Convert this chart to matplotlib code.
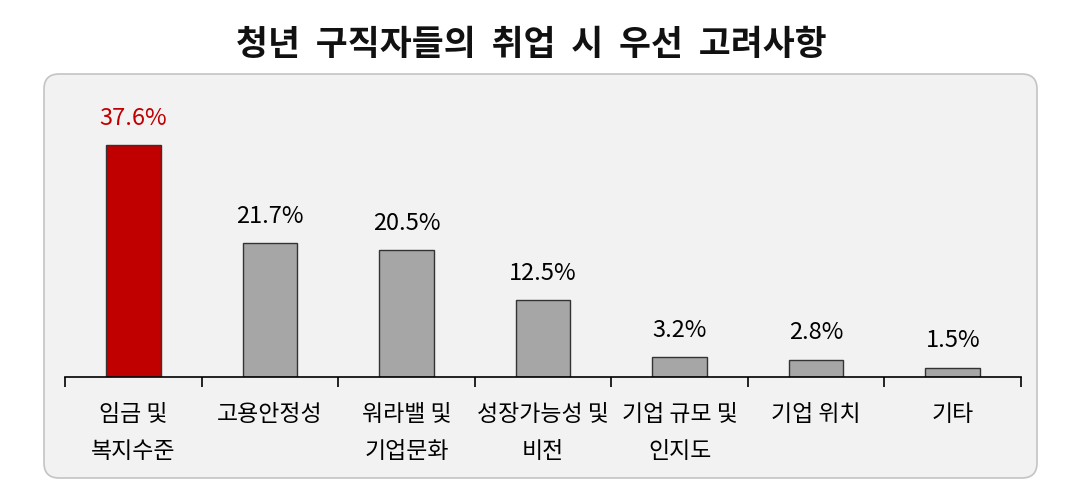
import numpy as np
import matplotlib.pyplot as plt
from matplotlib.patches import FancyBboxPatch

plt.rcParams['font.family'] = ['Noto Sans CJK KR', 'DejaVu Sans']

categories = ['임금 및\n복지수준', '고용안정성', '워라밸 및\n기업문화', '성장가능성 및\n비전',
              '기업 규모 및\n인지도', '기업 위치', '기타']
values = [37.6, 21.7, 20.5, 12.5, 3.2, 2.8, 1.5]
labels = ['37.6%', '21.7%', '20.5%', '12.5%', '3.2%', '2.8%', '1.5%']

red = '#c00000'
gray = '#a6a6a6'
colors = [red] + [gray] * 6
label_colors = [red] + ['black'] * 6

W, H = 1081, 493
fig = plt.figure(figsize=(W / 100, H / 100), dpi=100)
fig.patch.set_facecolor('white')

# rounded background panel
box = FancyBboxPatch((44 / W, (H - 478) / H), (1037 - 44) / W, (478 - 74) / H,
                     boxstyle='round,pad=0,rounding_size=0.014',
                     transform=fig.transFigure, facecolor='#f2f2f2',
                     edgecolor='#c4c4c4', linewidth=1.2, mutation_aspect=W / H,
                     zorder=-5)
fig.patches.append(box)

fig.text(531 / W, 1 - 45 / H, '청년  구직자들의  취업  시  우선  고려사항',
         ha='center', va='center', fontsize=25, weight='bold', color='#111111')

ax = fig.add_axes([65 / W, (H - 377) / H, (1021 - 65) / W, (377 - 90) / H])
ax.set_facecolor('none')
ax.set_zorder(2)

x = np.arange(len(values))
ax.bar(x, values, width=0.4, color=colors, edgecolor='#333333', linewidth=1)
for xi, v, lab, c in zip(x, values, labels, label_colors):
    ax.annotate(lab, (xi, v), xytext=(0, 11), textcoords='offset points',
                ha='center', va='bottom', fontsize=17, color=c)

ax.set_xlim(-0.5, len(values) - 0.5)
ax.set_ylim(0, 46.5)
for s in ['top', 'right', 'left']:
    ax.spines[s].set_visible(False)
ax.spines['bottom'].set_linewidth(1.2)
ax.set_yticks([])
ax.set_xticks(np.arange(len(values) + 1) - 0.5)
ax.set_xticklabels([])
ax.tick_params(axis='x', direction='out', length=7, width=1.2)
ax.set_xticks(x, minor=True)
ax.set_xticklabels(categories, minor=True, fontsize=16.5, linespacing=1.75)
ax.tick_params(axis='x', which='minor', length=0, pad=19)

fig.savefig('out.png', dpi=100)
